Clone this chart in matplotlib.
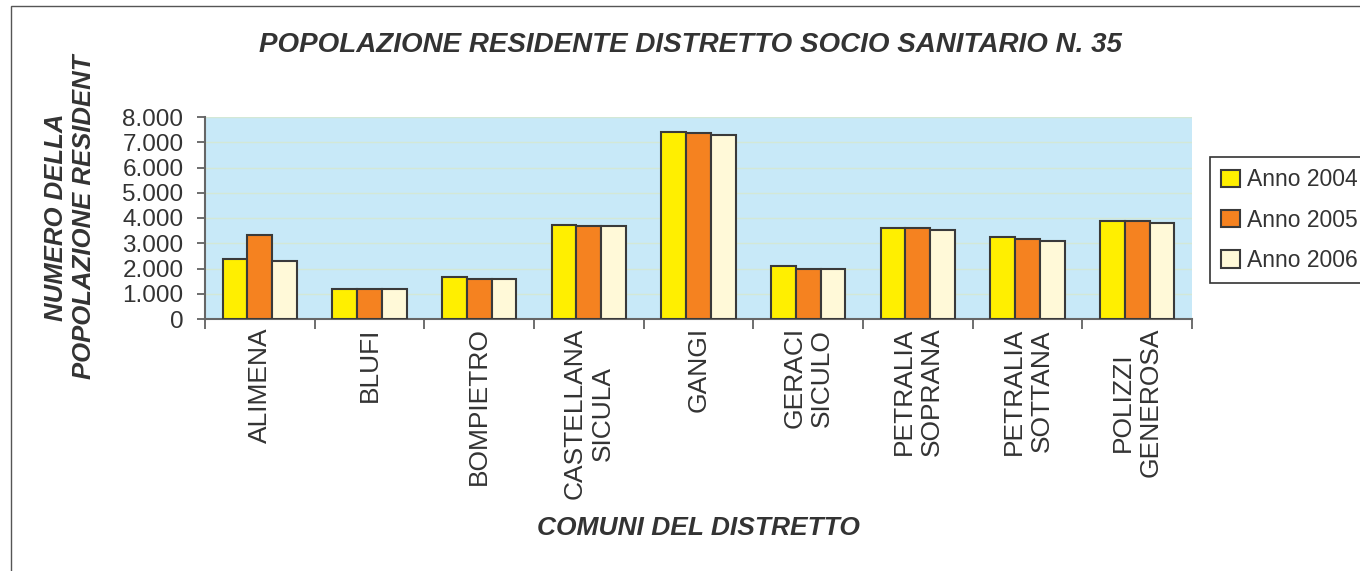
import numpy as np
import matplotlib
matplotlib.use("Agg")
import matplotlib.pyplot as plt
from matplotlib.patches import Rectangle
from matplotlib.ticker import FuncFormatter, FixedLocator

plt.rcParams['font.family'] = ['Liberation Sans', 'DejaVu Sans']

# dati
comuni = ["ALIMENA", "BLUFI", "BOMPIETRO", "CASTELLANA\nSICULA", "GANGI",
          "GERACI\nSICULO", "PETRALIA\nSOPRANA", "PETRALIA\nSOTTANA",
          "POLIZZI\nGENEROSA"]
anno_2004 = [2360, 1170, 1660, 3740, 7420, 2080, 3610, 3250, 3870]
anno_2005 = [3330, 1170, 1590, 3680, 7350, 2000, 3610, 3180, 3870]
anno_2006 = [2290, 1170, 1590, 3680, 7300, 2000, 3530, 3100, 3790]
serie = ["Anno 2004", "Anno 2005", "Anno 2006"]
colori = ["#FFEF00", "#F58220", "#FFF9D8"]

W, H = 1360, 571
fig = plt.figure(figsize=(W / 100, H / 100), dpi=100)
ax = fig.add_axes([205 / W, 1 - 319 / H, 987 / W, 202 / H])
ax.set_facecolor("#C8E9F8")

x = np.arange(len(comuni))
bw = 0.225
for i, (vals, lab, col) in enumerate(zip([anno_2004, anno_2005, anno_2006], serie, colori)):
    ax.bar(x + (i - 1) * bw, vals, bw, color=col, edgecolor="#3a3a3a",
           linewidth=1.5, label=lab, zorder=3)

ax.set_xlim(-0.5, len(comuni) - 0.5)
ax.set_ylim(0, 8000)
ax.set_yticks(np.arange(0, 8001, 1000))
ax.yaxis.set_major_formatter(FuncFormatter(lambda v, p: f"{int(v):,}".replace(",", ".")))
ax.grid(axis="y", color="#d3e8d6", linewidth=1, zorder=1)

ax.set_xticks(x)
ax.set_xticklabels(comuni, rotation=90, ha="center", va="top", multialignment="center")
ax.xaxis.set_minor_locator(FixedLocator(np.arange(-0.5, len(comuni), 1)))
ax.tick_params(axis="x", which="major", length=0, pad=6, labelsize=19, labelcolor="#333333")
ax.tick_params(axis="x", which="minor", length=7, width=1.2, color="#555555", direction="out")
ax.tick_params(axis="y", length=6, width=1.2, color="#555555", pad=9.5,
               labelsize=17.5, labelcolor="#333333")

for s in ["top", "right"]:
    ax.spines[s].set_visible(False)
for s in ["left", "bottom"]:
    ax.spines[s].set_color("#666666")
    ax.spines[s].set_linewidth(1.5)

leg = ax.legend(loc="upper left", bbox_to_anchor=(1210 / W, 1 - 157 / H),
                bbox_transform=fig.transFigure, borderaxespad=0, fancybox=False,
                edgecolor="#333333", framealpha=1, fontsize=16.5,
                handlelength=0.8, handleheight=0.8, handletextpad=0.3,
                labelspacing=0.75, borderpad=0.5)
leg.get_frame().set_linewidth(1.2)
for t in leg.get_texts():
    t.set_color("#333333")

fig.text(690 / W, 1 - 45 / H, "POPOLAZIONE RESIDENTE DISTRETTO SOCIO SANITARIO N. 35",
         ha="center", va="center", fontsize=20, fontweight="bold", style="italic",
         color="#333333")
fig.text(70 / W, 1 - 217 / H, "NUMERO DELLA\nPOPOLAZIONE RESIDENT", rotation=90,
         ha="center", va="center", multialignment="center", fontsize=18.5,
         fontweight="bold", style="italic", color="#333333")
fig.text(698 / W, 1 - 528 / H, "COMUNI DEL DISTRETTO", ha="center", va="center",
         fontsize=19, fontweight="bold", style="italic", color="#333333")

# cornice
fig.patches.append(Rectangle((11 / W, -0.1), 1.2, 1.1 - 6 / H, transform=fig.transFigure,
                             fill=False, edgecolor="#555555", linewidth=1))

fig.savefig("out.png", dpi=100)
